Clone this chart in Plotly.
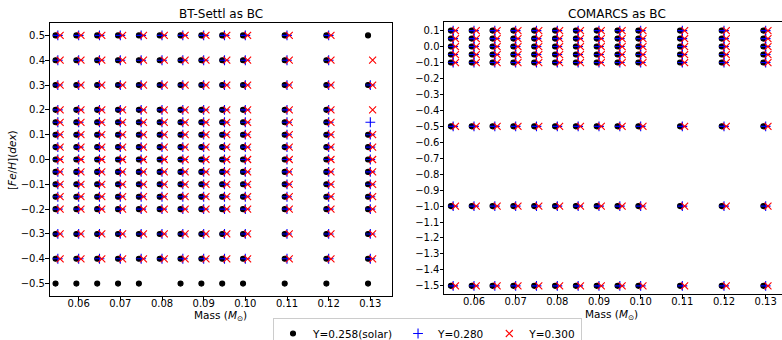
import plotly.graph_objects as go

# ---------------- data ----------------
masses = [0.055, 0.06, 0.065, 0.07, 0.075, 0.08, 0.085, 0.09, 0.095, 0.10, 0.11, 0.12, 0.13]
feh_bt = [0.5, 0.4, 0.3, 0.2, 0.15, 0.1, 0.05, 0.0, -0.05, -0.1, -0.15, -0.2, -0.3, -0.4]
feh_bt_low = -0.5  # only Y=0.258 computed here
masses_bt_low = [0.055, 0.06, 0.065, 0.07, 0.075, 0.085, 0.09, 0.095, 0.10, 0.11, 0.12, 0.13]
feh_comarcs = [0.1, 0.05, 0.0, -0.05, -0.1, -0.5, -1.0, -1.5]

# missing grid points in BT-Settl at M=0.13 for each helium value
bt_missing_258 = [(0.13, 0.4), (0.13, 0.2), (0.13, 0.15)]
bt_missing_280 = [(0.13, 0.5), (0.13, 0.4), (0.13, 0.2)]
bt_missing_300 = [(0.13, 0.5), (0.13, 0.15)]

series_names = ["Y=0.258(solar)", "Y=0.280", "Y=0.300"]
series_colors = ["black", "blue", "red"]
series_symbols = ["circle", "cross-thin", "x-thin"]
series_dx = [-0.00055, 0.0, 0.00055]  # visual offset so markers do not overlap

mass_ticks = [0.06, 0.07, 0.08, 0.09, 0.10, 0.11, 0.12, 0.13]
mass_ticktext = ["0.06", "0.07", "0.08", "0.09", "0.10", "0.11", "0.12", "0.13"]
feh_ticks_bt = [0.5, 0.4, 0.3, 0.2, 0.1, 0.0, -0.1, -0.2, -0.3, -0.4, -0.5]
feh_ticks_comarcs = [0.1, 0.0, -0.1, -0.2, -0.3, -0.4, -0.5, -0.6, -0.7, -0.8, -0.9,
                     -1.0, -1.1, -1.2, -1.3, -1.4, -1.5]


def grid(ms, fs, missing):
    xs, ys = [], []
    for f in fs:
        for m in ms:
            if (m, f) in missing:
                continue
            xs.append(m)
            ys.append(f)
    return xs, ys


fig = go.Figure()

W, H = 782, 340
# pixel geometry
L1, R1, T1, B1 = 49.5, 392.0, 23.0, 296.0
L2, T2, B2 = 444.0, 22.0, 294.3


def marker(i):
    return dict(symbol=series_symbols[i], color=series_colors[i], size=5 if i == 0 else 7,
                line=dict(width=1.1, color=series_colors[i]))


bt_missing = [bt_missing_258, bt_missing_280, bt_missing_300]
for i in range(3):
    xs, ys = grid(masses, feh_bt, bt_missing[i])
    if i == 0:
        xs += masses_bt_low
        ys += [feh_bt_low] * len(masses_bt_low)
    xs = [x + series_dx[i] for x in xs]
    fig.add_trace(go.Scatter(
        x=xs, y=ys, mode="markers", name=series_names[i], legendgroup=series_names[i],
        marker=marker(i), xaxis="x", yaxis="y", showlegend=True))

for i in range(3):
    xs, ys = grid(masses, feh_comarcs, [])
    xs = [x + series_dx[i] for x in xs]
    fig.add_trace(go.Scatter(
        x=xs, y=ys, mode="markers", name=series_names[i], legendgroup=series_names[i],
        marker=marker(i), xaxis="x2", yaxis="y2", showlegend=False))

font = "DejaVu Sans"
px_per_mass = (R1 - L1) / (0.1352 - 0.0530)

axcommon = dict(showgrid=False, zeroline=False, showline=True, linecolor="black", linewidth=1,
                ticks="outside", ticklen=3.5, tickwidth=1, tickcolor="black",
                tickfont=dict(family=font, size=10, color="black"), automargin=False)

fig.update_layout(
    width=W, height=H,
    margin=dict(l=0, r=0, t=0, b=0, autoexpand=False),
    paper_bgcolor="white", plot_bgcolor="white",
    font=dict(family=font, color="black"),
    xaxis=dict(axcommon, domain=[L1 / W, R1 / W], range=[0.0530, 0.1352], ticklabelstandoff=-6,
               tickvals=mass_ticks, ticktext=mass_ticktext, mirror=True, anchor="y"),
    yaxis=dict(axcommon, domain=[1 - B1 / H, 1 - T1 / H], range=[-0.55, 0.55], ticklabelstandoff=-2,
               tickvals=feh_ticks_bt, tickformat=".1f", mirror=True, anchor="x"),
    xaxis2=dict(axcommon, domain=[L2 / W, 1.0], ticklabelstandoff=-6,
                range=[0.0528, 0.0528 + (W - L2) / px_per_mass],
                tickvals=mass_ticks, ticktext=mass_ticktext, mirror=True, anchor="y2"),
    yaxis2=dict(axcommon, domain=[1 - B2 / H, 1 - T2 / H], range=[-1.553, 0.154], ticklabelstandoff=-2,
                tickvals=feh_ticks_comarcs, tickformat=".1f", mirror=False, anchor="x2"),
    legend=dict(orientation="h", x=273 / W, xanchor="left", y=1 - 318 / H, yanchor="top",
                bordercolor="#cccccc", borderwidth=1, bgcolor="white", maxheight=80,
                font=dict(family=font, size=10.5, color="black"), itemsizing="trace"),
    showlegend=True,
)

annotations = [
    dict(text="BT-Settl as BC", x=(L1 + R1) / 2 / W, y=1 - 14 / H, xref="paper", yref="paper",
         showarrow=False, font=dict(family=font, size=12, color="black"), xanchor="center", yanchor="middle"),
    dict(text="COMARCS as BC", x=617 / W, y=1 - 14 / H, xref="paper", yref="paper",
         showarrow=False, font=dict(family=font, size=12, color="black"), xanchor="center", yanchor="middle"),
    dict(text="Mass (<i>M</i><sub>⊙</sub>)", x=(L1 + R1) / 2 / W, y=1 - 316 / H, xref="paper", yref="paper",
         showarrow=False, font=dict(family=font, size=10.5, color="black"), xanchor="center", yanchor="middle"),
    dict(text="Mass (<i>M</i><sub>⊙</sub>)", x=611 / W, y=1 - 315 / H, xref="paper", yref="paper",
         showarrow=False, font=dict(family=font, size=10.5, color="black"), xanchor="center", yanchor="middle"),
    dict(text="[<i>Fe</i>/<i>H</i>](<i>dex</i>)", x=12 / W, y=1 - 160 / H, xref="paper", yref="paper",
         showarrow=False, textangle=-90, font=dict(family=font, size=10.5, color="black"),
         xanchor="center", yanchor="middle"),
]
fig.update_layout(annotations=annotations)

fig.write_html("out.html", config={"displayModeBar": False},
               post_script="document.body.style.margin='0';document.body.style.overflow='hidden';")
